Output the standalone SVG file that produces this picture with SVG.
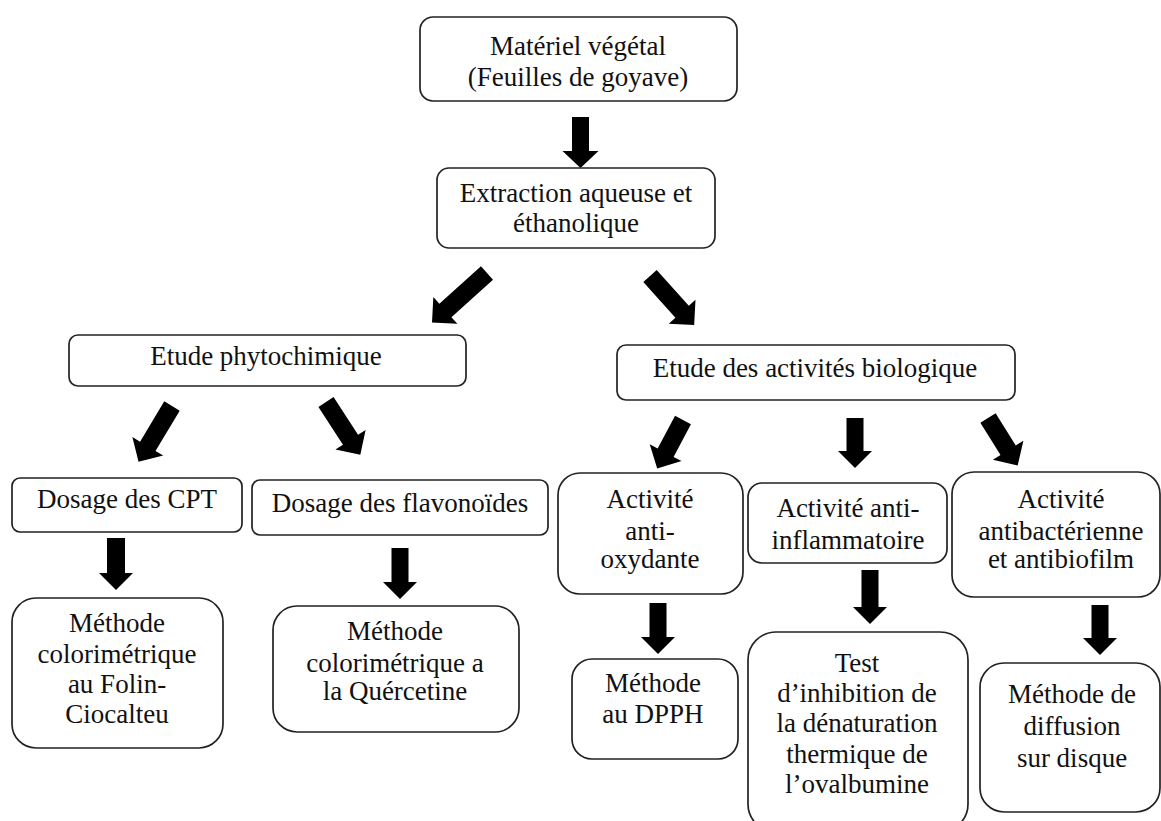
<svg xmlns="http://www.w3.org/2000/svg" width="1161" height="821" viewBox="0 0 1161 821">
<style>
.box{fill:#fff;stroke:#222;stroke-width:1.7}
.t{font-family:"Liberation Serif","Times New Roman",serif;font-size:27px;fill:#111;text-anchor:middle}
.arr{fill:#000}
</style>
<rect width="1161" height="821" fill="#fff"/>
<g id="connectors" class="arr">
<path d="M-8.5 0H8.5V34H18L0 51L-18 34H-8.5Z" transform="translate(580.5,117)"/>
<path d="M-9 0H9V56H18L0 74L-18 56H-9Z" transform="translate(487,273) rotate(48)"/>
<path d="M-9 0H9V48H18L0 66L-18 48H-9Z" transform="translate(650,276) rotate(-42)"/>
<path d="M-9 0H9V47H18L0 65L-18 47H-9Z" transform="translate(172,406) rotate(31)"/>
<path d="M-9 0H9V45H18L0 63L-18 45H-9Z" transform="translate(326,402) rotate(-33)"/>
<path d="M-9 0H9V37H18L0 55L-18 37H-9Z" transform="translate(683,420) rotate(28)"/>
<path d="M-8.5 0H8.5V33H17L0 50L-17 33H-8.5Z" transform="translate(855,418)"/>
<path d="M-9 0H9V38H18L0 56L-18 38H-9Z" transform="translate(988,418) rotate(-32)"/>
<path d="M-9 0H9V35H17L0 52L-17 35H-9Z" transform="translate(116,538)"/>
<path d="M-8.5 0H8.5V34H17L0 51L-17 34H-8.5Z" transform="translate(400,548)"/>
<path d="M-8.5 0H8.5V34H17L0 51L-17 34H-8.5Z" transform="translate(658,603)"/>
<path d="M-8.5 0H8.5V37H17L0 54L-17 37H-8.5Z" transform="translate(870,570)"/>
<path d="M-8.5 0H8.5V33H17L0 50L-17 33H-8.5Z" transform="translate(1100,605)"/>
</g>
<g id="n-materiel"><rect class="box" x="420" y="17" width="317" height="84" rx="13"/>
<text class="t" x="578" y="55">Matériel végétal</text><text class="t" x="578" y="86">(Feuilles de goyave)</text></g>
<g id="n-extraction"><rect class="box" x="437" y="168" width="278" height="80" rx="12"/>
<text class="t" x="576" y="202">Extraction aqueuse et</text><text class="t" x="576" y="232">éthanolique</text></g>
<g id="n-phyto"><rect class="box" x="69" y="335" width="397" height="51" rx="9"/>
<text class="t" x="266" y="365">Etude phytochimique</text></g>
<g id="n-bio"><rect class="box" x="617" y="345" width="398" height="55" rx="9"/>
<text class="t" x="815" y="377">Etude des activités biologique</text></g>
<g id="n-cpt"><rect class="box" x="12" y="478" width="230" height="54" rx="8"/>
<text class="t" x="127" y="508">Dosage des CPT</text></g>
<g id="n-flav"><rect class="box" x="252" y="480" width="296" height="55" rx="8"/>
<text class="t" x="400" y="512">Dosage des flavonoïdes</text></g>
<g id="n-antiox"><rect class="box" x="558" y="473" width="185" height="121" rx="22"/>
<text class="t" x="650" y="508">Activité</text><text class="t" x="650" y="540">anti-</text><text class="t" x="650" y="568">oxydante</text></g>
<g id="n-antiinf"><rect class="box" x="748" y="483" width="199" height="80" rx="14"/>
<text class="t" x="848" y="517">Activité anti-</text><text class="t" x="848" y="549">inflammatoire</text></g>
<g id="n-antibact"><rect class="box" x="952" y="472" width="208" height="125" rx="22"/>
<text class="t" x="1061" y="508">Activité</text><text class="t" x="1061" y="540">antibactérienne</text><text class="t" x="1061" y="568">et antibiofilm</text></g>
<g id="n-folin"><rect class="box" x="12" y="598" width="211" height="150" rx="24"/>
<text class="t" x="117" y="632">Méthode</text><text class="t" x="117" y="663">colorimétrique</text><text class="t" x="117" y="693">au Folin-</text><text class="t" x="117" y="723">Ciocalteu</text></g>
<g id="n-querc"><rect class="box" x="273" y="606" width="246" height="126" rx="24"/>
<text class="t" x="395" y="640">Méthode</text><text class="t" x="395" y="672">colorimétrique a</text><text class="t" x="395" y="700">la Quércetine</text></g>
<g id="n-dpph"><rect class="box" x="572" y="659" width="166" height="100" rx="20"/>
<text class="t" x="653" y="692">Méthode</text><text class="t" x="653" y="723">au DPPH</text></g>
<g id="n-test"><rect class="box" x="748" y="632" width="220" height="200" rx="28"/>
<text class="t" x="857" y="672">Test</text><text class="t" x="857" y="702">d’inhibition de</text><text class="t" x="857" y="732">la dénaturation</text><text class="t" x="857" y="763">thermique de</text><text class="t" x="857" y="793">l’ovalbumine</text></g>
<g id="n-diff"><rect class="box" x="980" y="663" width="180" height="149" rx="24"/>
<text class="t" x="1072" y="703">Méthode de</text><text class="t" x="1072" y="735">diffusion</text><text class="t" x="1072" y="767">sur disque</text></g>
</svg>
